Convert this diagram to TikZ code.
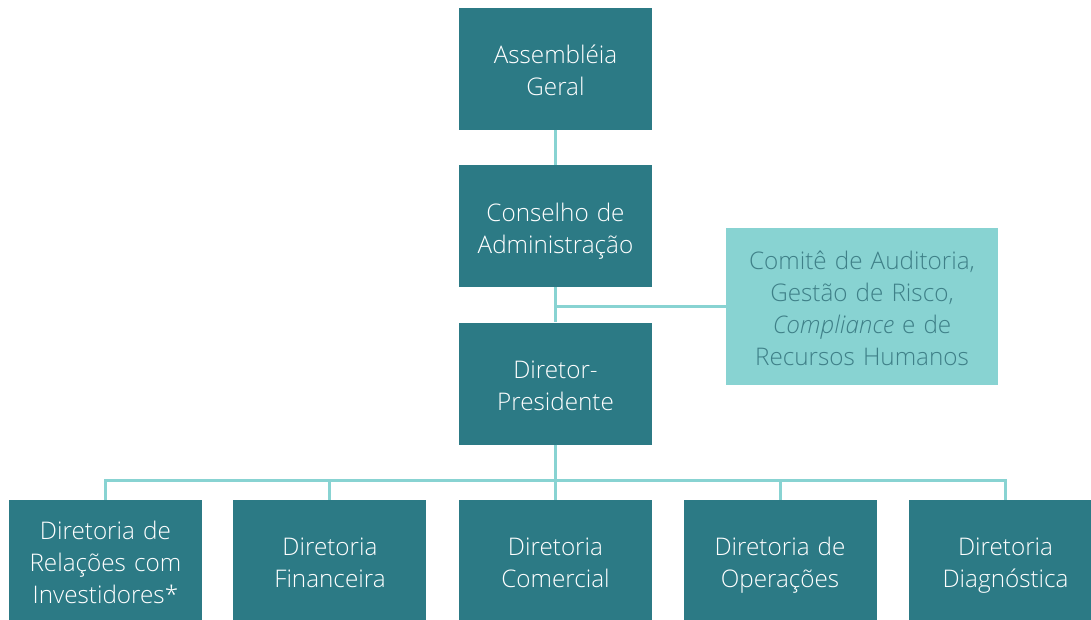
\documentclass[tikz,border=0pt]{standalone}
\usepackage{fontspec}
\setmainfont{Open Sans}[UprightFont=* Light, ItalicFont=* Light Italic]
\usepackage{xcolor}
\usetikzlibrary{positioning}

\definecolor{darkteal}{HTML}{2C7A85}
\definecolor{lightteal}{HTML}{88D3D2}
\definecolor{comitetext}{HTML}{3F8088}

\begin{document}
\begin{tikzpicture}[
    x=0.75pt, y=-0.75pt,
    node distance=26.25pt,
    box/.style={rectangle, fill=darkteal, text=white, text width=142pt, align=center,
        minimum width=144.75pt, minimum height=91.5pt, inner sep=0pt,
        font=\fontsize{18.2}{24}\selectfont,
        execute at begin node=\rule{0pt}{24.3pt}, execute at end node=\strut},
    subbox/.style={box, minimum height=90pt},
    sidebox/.style={rectangle, fill=lightteal, text=comitetext, text width=202pt, align=center,
        minimum width=204pt, minimum height=117.75pt, inner sep=0pt,
        font=\fontsize{18.2}{24}\selectfont,
        execute at begin node=\rule{0pt}{24.3pt}, execute at end node=\strut},
    link/.style={draw=lightteal, line width=2.25pt}
]
\useasboundingbox (0,0) rectangle (1091,619);

\node[box] (assembleia) at (555.5,68.5) {Assembléia\\Geral};
\node[box, below=of assembleia] (conselho) {Conselho de\\Administração};
\node[box, below=of conselho] (presidente) {Diretor-\\Presidente};
\node[sidebox] (comite) at (862,306) {Comitê de Auditoria,\\Gestão de Risco,\\\textit{Compliance} e de\\Recursos Humanos};

\node[subbox, below=41.25pt of presidente] (comercial) {Diretoria\\Comercial};
\node[subbox, left=24pt of comercial] (financeira) {Diretoria\\Financeira};
\node[subbox, left=23.25pt of financeira] (ri) {Diretoria de\\Relações com\\Investidores*};
\node[subbox, right=23.25pt of comercial] (operacoes) {Diretoria de\\Operações};
\node[subbox, right=24pt of operacoes] (diagnostica) {Diretoria\\Diagnóstica};

% ligações
\draw[link] (assembleia) -- (conselho);
\draw[link] (conselho) -- (presidente);
\draw[link] (conselho.south |- comite.west) -- (comite.west);
\draw[link] (presidente) -- (comercial);
\foreach \d in {ri,financeira,operacoes,diagnostica}
    \draw[link] (presidente.south) -- ++(0,36) -| (\d.north);

\end{tikzpicture}
\end{document}
